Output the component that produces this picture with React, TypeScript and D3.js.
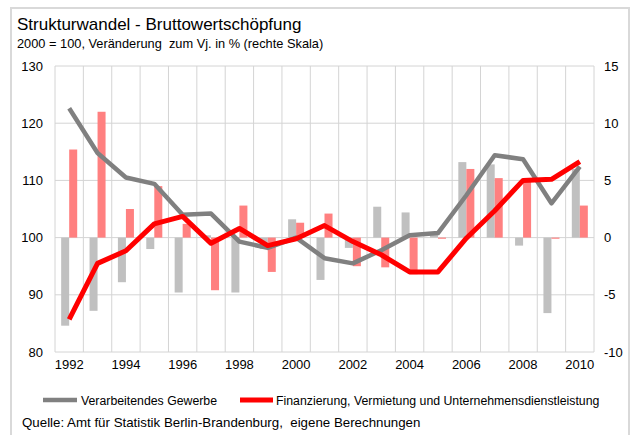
import React from 'react';
import * as d3 from 'd3';

// Jahre (Kategorien)
const years = ['1992', '1993', '1994', '1995', '1996', '1997', '1998', '1999', '2000', '2001',
  '2002', '2003', '2004', '2005', '2006', '2007', '2008', '2009', '2010'];

// Index 2000 = 100 (linke Skala)
const gewerbeIndex = [122.6, 114.8, 110.5, 109.4, 104.0, 104.2, 99.3, 98.2, 100, 96.4,
  95.5, 97.8, 100.4, 100.8, 107.4, 114.4, 113.7, 106.0, 112.4];
const finanzIndex = [85.7, 95.5, 97.7, 102.4, 103.7, 99.0, 101.6, 98.6, 99.8, 102.1,
  99.3, 97.0, 94.0, 94.0, 99.9, 104.7, 110.0, 110.2, 113.3];

// Veränderung zum Vj. in % (rechte Skala)
const gewerbeChange = [-7.7, -6.4, -3.9, -1.0, -4.8, 0.2, -4.8, -1.0, 1.6, -3.7,
  -0.9, 2.7, 2.2, 0.4, 6.6, 6.4, -0.7, -6.6, 6.0];
const finanzChange = [7.7, 11.0, 2.5, 4.5, 1.2, -4.6, 2.8, -3.0, 1.3, 2.1,
  -2.5, -2.6, -3.2, -0.1, 6.0, 5.2, 5.2, -0.1, 2.8];

const leftTicks = [80, 90, 100, 110, 120, 130];
const rightTicks = [-10, -5, 0, 5, 10, 15];
const yearLabels = ['1992', '1994', '1996', '1998', '2000', '2002', '2004', '2006', '2008', '2010'];

const W = 631;
const H = 435;
const plot = { left: 55, right: 594, top: 66, bottom: 352 };
const FONT = '"Liberation Sans", Arial, Helvetica, sans-serif';

const GRAY_BAR = '#c0c0c0';
const RED_BAR = '#ff8080';
const GRAY_LINE = '#808080';
const RED_LINE = '#ff0000';
const GRID = '#d4d4d4';

export default function App() {
  const x = d3.scaleBand<string>().domain(years).range([plot.left, plot.right]).padding(0);
  const sub = d3.scaleBand<string>().domain(['g', 'r']).range([0, x.bandwidth()])
    .paddingInner(0).paddingOuter(0.77);
  const yL = d3.scaleLinear().domain([80, 130]).range([plot.bottom, plot.top]);
  const yR = d3.scaleLinear().domain([-10, 15]).range([plot.bottom, plot.top]);

  const cx = (y: string) => (x(y) || 0) + x.bandwidth() / 2;
  const line = d3.line<number>()
    .x((_, i) => cx(years[i]))
    .y(d => yL(d));

  const bar = (v: number, i: number, key: 'g' | 'r', fill: string) => {
    const y0 = yR(0);
    const y1 = yR(v);
    return (
      <rect key={key + i} x={(x(years[i]) || 0) + (sub(key) || 0)} width={sub.bandwidth()}
        y={Math.min(y0, y1)} height={Math.abs(y1 - y0)} fill={fill} />
    );
  };

  // Gitterlinien an den Kategoriegrenzen
  const vLines = years.map(y => x(y) || 0).concat([plot.right]);

  return (
    <svg width={W} height={H} style={{ position: 'absolute', left: 0, top: 0, background: '#fff' }}
      fontFamily={FONT}>
      <rect x={0} y={0} width={W} height={H} fill="#fff" />
      <rect x={11} y={8} width={618} height={440} fill="none" stroke="#d9d9d9" strokeWidth={2} />

      <text x={17} y={30} fontSize={17} fill="#000">Strukturwandel - Bruttowertschöpfung</text>
      <text x={17} y={48} fontSize={12.8} fill="#000" style={{ whiteSpace: 'pre' }}>
        {'2000 = 100, Veränderung  zum Vj. in % (rechte Skala)'}
      </text>

      {/* Gitter */}
      {leftTicks.map(t => (
        <line key={'h' + t} x1={plot.left} x2={plot.right} y1={yL(t)} y2={yL(t)} stroke={GRID} strokeWidth={1} />
      ))}
      {vLines.map((vx, i) => (
        <line key={'v' + i} x1={vx} x2={vx} y1={plot.top} y2={plot.bottom} stroke={GRID} strokeWidth={1} />
      ))}

      {/* Balken */}
      {gewerbeChange.map((v, i) => bar(v, i, 'g', GRAY_BAR))}
      {finanzChange.map((v, i) => bar(v, i, 'r', RED_BAR))}

      {/* Linien */}
      <path d={line(gewerbeIndex) || ''} fill="none" stroke={GRAY_LINE} strokeWidth={4.5} strokeLinejoin="round" />
      <path d={line(finanzIndex) || ''} fill="none" stroke={RED_LINE} strokeWidth={5} strokeLinejoin="round" />

      {/* Achsenbeschriftung */}
      {leftTicks.map(t => (
        <text key={'l' + t} x={43} y={yL(t) + 4.5} fontSize={13} textAnchor="end">{t}</text>
      ))}
      {rightTicks.map(t => (
        <text key={'r' + t} x={604} y={yR(t) + 4.5} fontSize={13}>{t}</text>
      ))}
      {yearLabels.map(y => (
        <text key={'x' + y} x={cx(y)} y={369} fontSize={13} textAnchor="middle">{y}</text>
      ))}

      {/* Legende */}
      <line x1={43} x2={77} y1={400} y2={400} stroke={GRAY_LINE} strokeWidth={4.5} />
      <text x={81} y={404.5} fontSize={12.3}>Verarbeitendes Gewerbe</text>
      <line x1={240} x2={273} y1={400} y2={400} stroke={RED_LINE} strokeWidth={5} />
      <text x={276} y={404.5} fontSize={12.3}>Finanzierung, Vermietung und Unternehmensdienstleistung</text>

      <text x={22} y={427} fontSize={13.3} style={{ whiteSpace: 'pre' }}>
        {'Quelle: Amt für Statistik Berlin-Brandenburg,  eigene Berechnungen'}
      </text>
    </svg>
  );
}
